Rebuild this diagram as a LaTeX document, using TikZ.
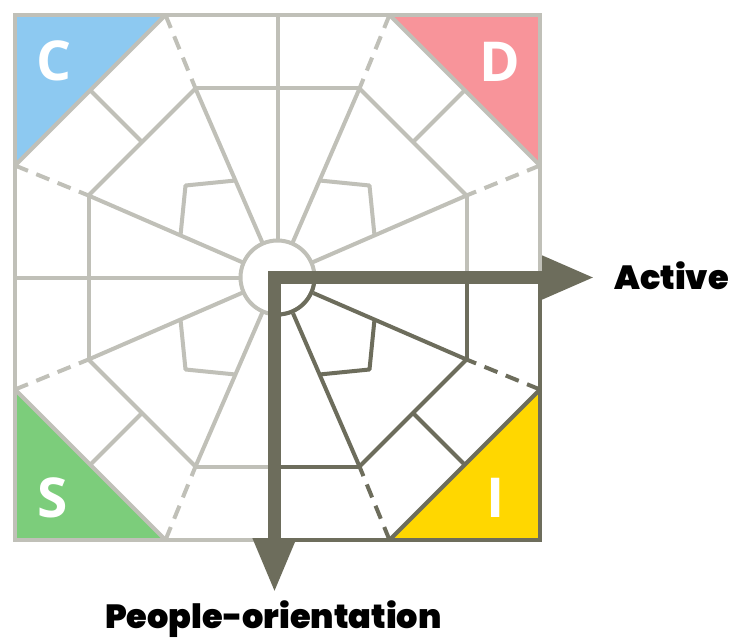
\documentclass[tikz,border=0pt]{standalone}
\usepackage{fontspec}
\usetikzlibrary{arrows.meta}
\newfontfamily\heavyfont{Poppins Black}
\newfontfamily\letterfont{Open Sans}
\definecolor{cblue}{HTML}{8DC9F1}
\definecolor{dpink}{HTML}{F8949A}
\definecolor{sgreen}{HTML}{7CCD7B}
\definecolor{iyellow}{HTML}{FFD700}
\definecolor{lgray}{HTML}{C0C0B8}
\definecolor{dolive}{HTML}{6D6D5C}
\begin{document}
\begin{tikzpicture}[x=1pt,y=-1pt,line cap=butt,line join=round,
 gl/.style={draw=lgray,line width=4pt},
 dl/.style={draw=dolive,line width=4pt},
 dsh/.style={dash pattern=on 14pt off 9pt},
 letter/.style={text=white,font=\letterfont\bfseries\fontsize{55}{55}\selectfont,inner sep=0pt},
 axislabel/.style={font=\heavyfont\fontsize{33.5}{33.5}\selectfont,inner sep=0pt,text=black}]
\useasboundingbox (0,0) rectangle (734,642);
\fill[white] (0,0) rectangle (734,642);
\begin{scope}[shift={(277.5,277.5)}]
% coloured corner triangles
\fill[cblue] (-262.5,-262.5) -- (-112,-262.5) -- (-262.5,-112) -- cycle;
\fill[dpink] (262.5,-262.5) -- (112,-262.5) -- (262.5,-112) -- cycle;
\fill[sgreen] (-262.5,262.5) -- (-112,262.5) -- (-262.5,112) -- cycle;
\fill[iyellow] (262.5,262.5) -- (112,262.5) -- (262.5,112) -- cycle;
% axes
\draw[gl] (0,-262.5) -- (0,262.5);
\draw[gl] (-262.5,0) -- (262.5,0);
% quadrants
\foreach \sx/\sy/\st in {-1/-1/gl, 1/-1/gl, -1/1/gl, 1/1/dl} {
  \draw[\st,line join=miter] (0,{\sy*262.5}) -- ({\sx*262.5},{\sy*262.5}) -- ({\sx*262.5},0);
  \draw[\st] ({\sx*112},{\sy*262.5}) -- ({\sx*262.5},{\sy*112});
  \draw[\st,dsh] ({\sx*112},{\sy*262.5}) -- ({\sx*82},{\sy*189});
  \draw[\st,dsh] ({\sx*262.5},{\sy*112}) -- ({\sx*189},{\sy*82});
  \draw[\st] ({\sx*82},{\sy*189}) -- ({\sx*189},{\sy*82});
  \draw[\st] ({\sx*135.5},{\sy*135.5}) -- ({\sx*187.25},{\sy*187.25});
  \draw[\st] (0,0) -- ({\sx*82},{\sy*189});
  \draw[\st] (0,0) -- ({\sx*189},{\sy*82});
  \draw[\st] ({\sx*97},{\sy*42}) -- ({\sx*92},{\sy*92}) -- ({\sx*42},{\sy*97});
  \draw[\st] ({\sx*82},{\sy*189}) -- (0,{\sy*189});
  \draw[\st] ({\sx*189},{\sy*82}) -- ({\sx*189},0);
}
% centre circle
\fill[white] (0,0) circle (37);
\draw[gl] (0,0) circle (37);
\draw[dl] (37,0) arc (0:90:37);
% thick axes with arrows
\coordinate (corner) at (-3,0);
\coordinate (activetip) at (317.5,0);
\coordinate (peopletip) at (-3,315.5);
\draw[dolive,line width=13pt,line join=miter,
  {Triangle[length=55pt,width=40pt]}-{Triangle[length=53pt,width=40pt]}]
  (peopletip) -- (corner) -- (activetip);
\end{scope}
% letters
\node[letter] (C) at (54,61) {C};
\node[letter] (D) at (500,62) {D};
\node[letter] (S) at (53,498) {S};
\node[letter] (I) at (496,498) {I};
% axis labels
\node[axislabel,anchor=west] (active) at (614,276) {Active};
\node[axislabel,anchor=base west] (people) at (105,628) {People-orientation};
\end{tikzpicture}
\end{document}
